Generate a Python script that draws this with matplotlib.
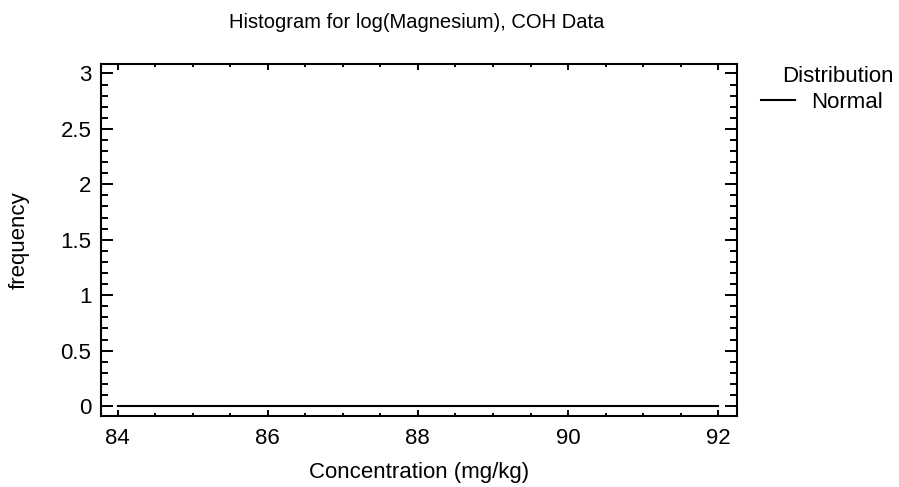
import matplotlib.pyplot as plt
from matplotlib.ticker import MultipleLocator

plt.rcParams['font.family'] = ['Liberation Sans', 'DejaVu Sans']

# curva normal ajustada (practicamente plana en cero)
normal_x = [84.0, 92.0]
normal_y = [0.0, 0.0]

x_ticks = [84, 86, 88, 90, 92]
y_ticks = [0, 0.5, 1, 1.5, 2, 2.5, 3]
y_labels = ["0", "0.5", "1", "1.5", "2", "2.5", "3"]

W, H = 899, 487
fig = plt.figure(figsize=(W / 100, H / 100), dpi=100)
ax = fig.add_axes([101 / W, 1 - 416 / H, 636 / W, 352 / H])

ax.plot(normal_x, normal_y, color='black', lw=1.5, label='Normal')

ax.set_xlim(83.78, 92.25)
ax.set_ylim(-0.09, 3.085)
ax.set_xticks(x_ticks)
ax.set_yticks(y_ticks)
ax.set_yticklabels(y_labels)
ax.xaxis.set_minor_locator(MultipleLocator(0.5))
ax.yaxis.set_minor_locator(MultipleLocator(0.1))
ax.tick_params(which='both', direction='in', top=True, right=True, width=1.4, labelsize=16)
ax.tick_params(axis='x', which='major', length=4.5, pad=9)
ax.tick_params(axis='x', which='minor', length=2.2)
ax.tick_params(axis='y', which='major', length=8.5, pad=7)
ax.tick_params(axis='y', which='minor', length=5)
for s in ax.spines.values():
    s.set_linewidth(1.5)

ax.set_xlabel("Concentration (mg/kg)", fontsize=16, labelpad=9)
ax.set_ylabel("frequency", fontsize=16, labelpad=22)
fig.text(417 / W, 1 - 28 / H, "Histogram for log(Magnesium), COH Data",
         fontsize=14.5, ha='center', va='baseline')

# leyenda: titulo aparte, entrada con la linea
fig.text(894 / W, 1 - 82 / H, "Distribution", fontsize=16, ha='right', va='baseline')
leg = ax.legend(loc='upper left', bbox_to_anchor=(761 / W, 1 - 92 / H),
                bbox_transform=fig.transFigure, frameon=False, fontsize=16,
                handlelength=1.55, handletextpad=0.7, borderpad=0, borderaxespad=0)

fig.savefig("out.png", dpi=100)
